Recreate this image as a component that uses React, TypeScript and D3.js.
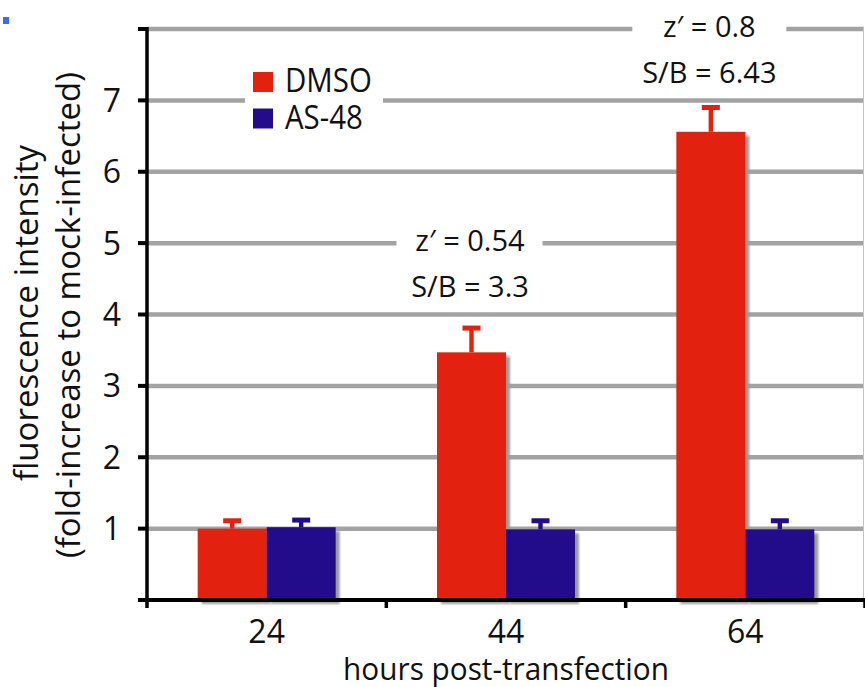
import React from "react";
import * as d3 from "d3";

const categories = ["24", "44", "64"];
const seriesNames = ["DMSO", "AS-48"];
const dmsoValues = [1.0, 3.47, 6.56];
const dmsoErrors = [1.11, 3.81, 6.9];
const as48Values = [1.02, 0.99, 0.99];
const as48Errors = [1.12, 1.11, 1.11];
const yTicks = [0, 1, 2, 3, 4, 5, 6, 7, 8];
const yTickLabels = ["", "1", "2", "3", "4", "5", "6", "7", ""];
const annotations = [
  { cat: "44", value: 5, lines: ["z\u2032 = 0.54", "S/B = 3.3"] },
  { cat: "64", value: 8, lines: ["z\u2032 = 0.8", "S/B = 6.43"] },
];

const W = 865;
const H = 687;
const colors = ["#e3210f", "#220c8c"];
const FONT = "'Open Sans', sans-serif";

export default function App() {
  const x0 = 147;
  const x1 = 865;
  const yBase = 600;
  const y = d3.scaleLinear().domain([0, 8]).range([yBase, 29]);
  const xb = d3.scaleBand<string>().domain(categories).range([x0, x1]);
  const xs = d3.scaleBand<string>().domain(seriesNames).range([0, 138]);
  const groupOffset = (xb.bandwidth() - 138) / 2;

  const series = [
    { name: seriesNames[0], values: dmsoValues, errors: dmsoErrors, color: colors[0] },
    { name: seriesNames[1], values: as48Values, errors: as48Errors, color: colors[1] },
  ];

  return (
    <svg width={W} height={H} style={{ position: "absolute", left: 0, top: 0, background: "#fff" }}>
      <defs>
        <filter id="blur" x="-20%" y="-20%" width="140%" height="140%">
          <feGaussianBlur stdDeviation="0.8" />
        </filter>
      </defs>
      <rect x={0} y={0} width={W} height={H} fill="#fff" />
      <rect x={3} y={17} width={6} height={7} fill="#3a6cf0" />
      {/* gridlines */}
      {yTicks.slice(1).map((t) => (
        <line key={t} x1={x0} x2={864} y1={y(t)} y2={y(t)} stroke="#a3a3a3" strokeWidth={4.5} />
      ))}
      <line x1={863.5} x2={863.5} y1={y(8) - 2} y2={yBase} stroke="#c4c4c4" strokeWidth={1} />
      {/* white boxes behind text */}
      <rect x={245} y={58} width={138} height={84} fill="#fff" />
      {annotations.map((a, i) => {
        const cx = (xb(a.cat) as number) + xb.bandwidth() / 2 - 36 + (a.cat === "64" ? 0 : -0.5);
        const w = a.cat === "64" ? 154 : 146;
        return <rect key={i} x={cx - w / 2} y={y(a.value) - 22} width={w} height={62} fill="#fff" />;
      })}
      {/* shadows */}
      {series.map((s) =>
        categories.map((c, i) => (
          <rect
            key={s.name + c + "sh"}
            x={(xb(c) as number) + groupOffset + (xs(s.name) as number) + 4}
            y={y(s.values[i]) + 4}
            width={xs.bandwidth()}
            height={yBase - y(s.values[i])}
            fill="#9b9b9b"
            filter="url(#blur)"
          />
        ))
      )}
      {/* bars */}
      {series.map((s) =>
        categories.map((c, i) => {
          const bx = (xb(c) as number) + groupOffset + (xs(s.name) as number);
          const cx = bx + xs.bandwidth() / 2;
          return (
            <g key={s.name + c}>
              <rect x={bx} y={y(s.values[i])} width={xs.bandwidth()} height={yBase - y(s.values[i])} fill={s.color} />
              <rect x={cx - 2.2} y={y(s.errors[i])} width={4.4} height={y(s.values[i]) - y(s.errors[i])} fill={s.color} />
              <rect x={cx - 9} y={y(s.errors[i]) - 2.5} width={18} height={5} fill={s.color} />
            </g>
          );
        })
      )}
      {/* axes */}
      <line x1={x0} x2={x0} y1={27} y2={608} stroke="#000" strokeWidth={3.5} />
      {yTicks.map((t) => (
        <line key={"yt" + t} x1={138} x2={x0} y1={y(t)} y2={y(t)} stroke="#000" strokeWidth={4} />
      ))}
      <line x1={138} x2={865} y1={yBase} y2={yBase} stroke="#000" strokeWidth={4} />
      {categories.map((c) => (
        <line key={"xt" + c} x1={(xb(c) as number) + xb.bandwidth()} x2={(xb(c) as number) + xb.bandwidth()} y1={yBase} y2={608} stroke="#000" strokeWidth={3.5} />
      ))}
      {/* tick labels */}
      {yTicks.map((t, i) => (
        <text key={"yl" + t} x={121} y={y(t) + 11.5} textAnchor="end" fontFamily={FONT} fontSize={32} fill="#111">
          {yTickLabels[i]}
        </text>
      ))}
      {categories.map((c) => (
        <text key={"xl" + c} x={(xb(c) as number) + xb.bandwidth() / 2} y={643} textAnchor="middle" fontFamily={FONT} fontSize={32} fill="#111">
          {c}
        </text>
      ))}
      {/* axis titles */}
      <text transform={`translate(${(xb("44") as number) + xb.bandwidth() / 2},680) scale(0.96,1)`} textAnchor="middle" fontFamily={FONT} fontSize={31} fill="#111">
        hours post-transfection
      </text>
      <text transform="translate(38,313) rotate(-90)" textAnchor="middle" fontFamily={FONT} fontSize={33} fill="#111">
        fluorescence intensity
      </text>
      <text transform="translate(80,315) rotate(-90)" textAnchor="middle" fontFamily={FONT} fontSize={33} fill="#111">
        (fold-increase to mock-infected)
      </text>
      {/* legend */}
      {series.map((s, i) => (
        <g key={"lg" + s.name}>
          <rect x={253} y={72 + i * 36.5} width={20} height={20} fill={s.color} />
          <text transform={`translate(285,${92 + i * 37}) scale(0.92,1)`} fontFamily={FONT} fontSize={32} fill="#111">
            {s.name}
          </text>
        </g>
      ))}
      {/* annotations */}
      {annotations.map((a, i) => {
        const cx = (xb(a.cat) as number) + xb.bandwidth() / 2 - 36;
        return (
          <g key={"an" + i}>
            {a.lines.map((l, j) => (
              <text key={j} x={cx} y={y(a.value) + 8 + j * 46} textAnchor="middle" fontFamily={FONT} fontSize={29} fill="#111">
                {l}
              </text>
            ))}
          </g>
        );
      })}
    </svg>
  );
}
